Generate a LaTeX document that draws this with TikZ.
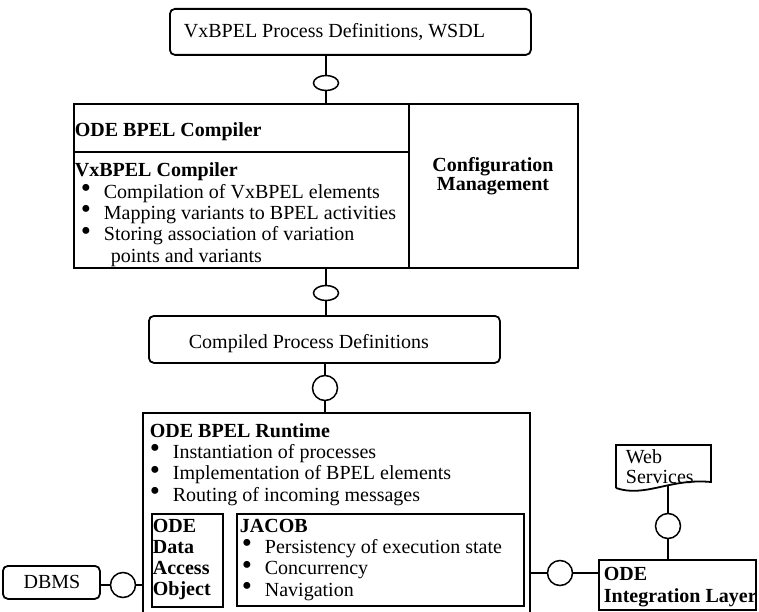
\documentclass[tikz,border=0pt]{standalone}
\usepackage{fontspec}
\setmainfont{Liberation Serif}
\usetikzlibrary{shapes.geometric}
\newcommand\bul{\makebox[23pt][l]{\raisebox{0.5pt}{\scalebox{1.45}{\textbullet}}}}
\begin{document}
\begin{tikzpicture}[x=1pt,y=-1pt,line width=1.8pt,
  every node/.style={font=\fontsize{20}{21.3}\selectfont,inner sep=0pt},
  box/.style={draw,anchor=north west},
  rbox/.style={box,rounded corners=5pt},
  txt/.style={anchor=base west,align=left},
  port/.style={draw,ellipse,minimum width=25pt,minimum height=15pt,line width=1.5pt},
  lolli/.style={draw,circle,minimum size=25pt,line width=1.5pt}]
\useasboundingbox (0,0) rectangle (759,612);
\node[rbox,minimum width=361pt,minimum height=46pt] (defs) at (169,8) {};
\node[txt] (defst) at (183,38) {VxBPEL Process Definitions, WSDL};
\node[port] (p1) at (326,83) {};
\node[box,minimum width=504pt,minimum height=164pt] (comp) at (73,103) {};
\draw (comp.north west) ++(336,0) -- ++(0,164);
\draw (comp.north west) ++(0,49) -- ++(336,0);
\node[txt] (compt) at (74,137) {\bfseries ODE BPEL Compiler};
\node[txt] (vxc) at (74,262) {\textbf{VxBPEL Compiler}\\
  \hspace*{6pt}\bul Compilation of VxBPEL elements\\
  \hspace*{6pt}\bul Mapping variants to BPEL activities\\
  \hspace*{6pt}\bul Storing association of variation\\
  \hspace*{36pt}points and variants};
\node[anchor=base,align=center,font=\fontsize{20}{19}\selectfont\bfseries] (cfg) at (493,191) {Configuration\\Management};
\node[port] (p2) at (326,293) {};
\node[rbox,minimum width=351pt,minimum height=47pt] (cpd) at (148,315) {};
\node[txt] (cpdt) at (188,348) {Compiled Process Definitions};
\node[lolli] (c1) at (325,388) {};
\node[minimum width=385pt,minimum height=200pt,anchor=north west] (rt) at (143,413) {};
\draw (rt.south west) -- (rt.north west) -- (rt.north east) -- (rt.south east);
\node[txt] (rtt) at (149,501) {\textbf{ODE BPEL Runtime}\\
  \bul Instantiation of processes\\
  \bul Implementation of BPEL elements\\
  \bul Routing of incoming messages};
\node[box,minimum width=71pt,minimum height=93pt] (dao) at (151,513) {};
\node[txt,font=\fontsize{20}{21}\selectfont\bfseries] (daot) at (152,595) {ODE\\Data\\Access\\Object};
\node[box,minimum width=287pt,minimum height=92pt] (jacob) at (236,513) {};
\node[txt] (jact) at (239,596) {\textbf{JACOB}\\
  \hspace*{2pt}\bul Persistency of execution state\\
  \hspace*{2pt}\bul Concurrency\\
  \hspace*{2pt}\bul Navigation};
\node[rbox,minimum width=97pt,minimum height=33pt] (dbms) at (2,565) {};
\node[anchor=base] (dbmst) at (52,588) {DBMS};
\node[lolli] (c2) at (123,585) {};
\node[lolli] (c3) at (560,573) {};
\node[box,minimum width=157pt,minimum height=50pt] (il) at (598,559) {};
\node[txt,font=\fontsize{20}{22}\selectfont\bfseries] (ilt) at (603,602) {ODE\\Integration Layer};
\draw (616,488) -- (616,445) -- (711,445) -- (711,482) .. controls (670,478) and (645,498) .. (616,488);
\coordinate (wsb) at (668,485);
\node[txt,font=\fontsize{20}{20}\selectfont] (wst) at (625,483) {Web\\Services};
\node[lolli] (c4) at (668,526) {};
\draw (p1 |- defs.south) -- (p1.north) (p1.south) -- (p1 |- comp.north);
\draw (p2 |- comp.south) -- (p2.north) (p2.south) -- (p2 |- cpd.north);
\draw (c1 |- cpd.south) -- (c1.north) (c1.south) -- (c1 |- rt.north);
\draw (dbms.east |- c2) -- (c2.west) (c2.east) -- (c2 -| rt.west);
\draw (c3 -| rt.east) -- (c3.west) (c3.east) -- (c3 -| il.west);
\draw (wsb) -- (c4.north) (c4.south) -- (c4 |- il.north);
\end{tikzpicture}
\end{document}
